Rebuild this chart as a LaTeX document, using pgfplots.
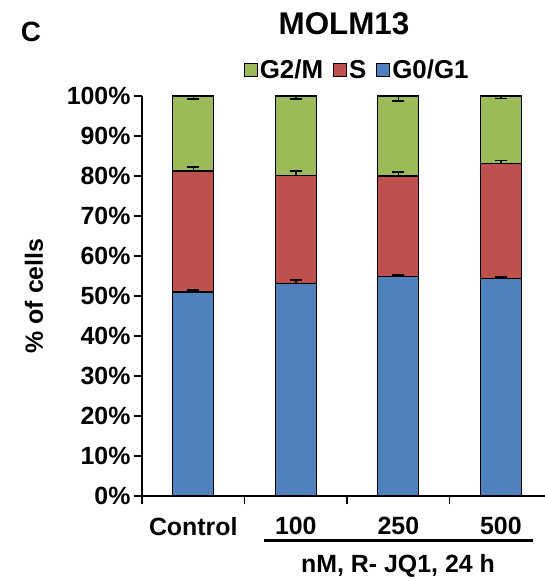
\documentclass[border=0pt]{standalone}
\usepackage{pgfplots}
\pgfplotsset{compat=1.18}
\usepackage{fontspec}
\setmainfont{Liberation Sans}
\definecolor{bblue}{HTML}{4F81BD}
\definecolor{bred}{HTML}{C0504D}
\definecolor{bgreen}{HTML}{9BBB59}
\begin{document}
\begin{tikzpicture}[font=\fontsize{25}{30}\selectfont\bfseries]
\begin{axis}[
  at={(0,0)}, anchor=south west,
  scale only axis, width=403bp, height=400bp,
  xmin=-0.5, xmax=3.43, ymin=0, ymax=100,
  ybar stacked, bar width=0.4,
  axis lines=left,
  axis line style={line width=2.2bp, -},
  tick style={line width=1.6bp, black},
  major tick length=8bp, tick align=outside,
  ytick={0,10,...,100},
  yticklabels={0\%,10\%,20\%,30\%,40\%,50\%,60\%,70\%,80\%,90\%,100\%},
  xtick={-0.5,0.5,1.5,2.5},
  xticklabels={},
  extra x ticks={0,1,2,3},
  extra x tick labels={Control,100,250,500},
  extra x tick style={major tick length=0pt},
  xticklabel style={yshift=-18bp},
  ylabel={\% of cells},
  ylabel style={at={(axis description cs:-0.268,0.5)}, anchor=center},
  reverse legend,
  legend columns=-1,
  legend style={at={(axis description cs:0.534,1.065)}, anchor=center, draw=none, fill=none,
    /tikz/every even column/.append style={column sep=8bp},
    font=\fontsize{26}{30}\selectfont\bfseries},
  legend image code/.code={\draw[#1, draw=black, line width=1bp] (0bp,-6.5bp) rectangle (13bp,6.5bp);},
  error bars/error bar style={line width=1.5bp, black},
  error bars/error mark options={rotate=90, mark size=6bp, line width=1.5bp, black},
]
\addplot[fill=bblue, draw=black, line width=1.2bp, error bars/.cd, y dir=plus, y explicit] coordinates {
  (0,51.0) +- (0,0.5)
  (1,53.1) +- (0,0.9)
  (2,54.9) +- (0,0.3)
  (3,54.3) +- (0,0.4)
};
\addlegendentry{G0/G1}
\addplot[fill=bred, draw=black, line width=1.2bp, error bars/.cd, y dir=plus, y explicit] coordinates {
  (0,30.25) +- (0,1.0)
  (1,27.1) +- (0,1.1)
  (2,25.1) +- (0,1.0)
  (3,28.8) +- (0,0.75)
};
\addlegendentry{S}
\addplot[fill=bgreen, draw=black, line width=1.2bp, error bars/.cd, y dir=minus, y explicit] coordinates {
  (0,18.75) +- (0,0.75)
  (1,19.8) +- (0,0.8)
  (2,20.0) +- (0,1.25)
  (3,16.9) +- (0,0.6)
};
\addlegendentry{G2/M}
\end{axis}
\node at (202bp,472.5bp) {\fontsize{31.5}{36}\selectfont MOLM13};
\node at (-111bp,464bp) {\fontsize{28}{32}\selectfont C};
\draw[line width=2.7bp] (122bp,-44.7bp) -- (390.7bp,-44.7bp);
\node at (256bp,-70bp) {nM, R- JQ1, 24 h};
\pgfresetboundingbox
\path[use as bounding box] (-142bp,-85bp) rectangle (403bp,496bp);
\end{tikzpicture}
\end{document}
